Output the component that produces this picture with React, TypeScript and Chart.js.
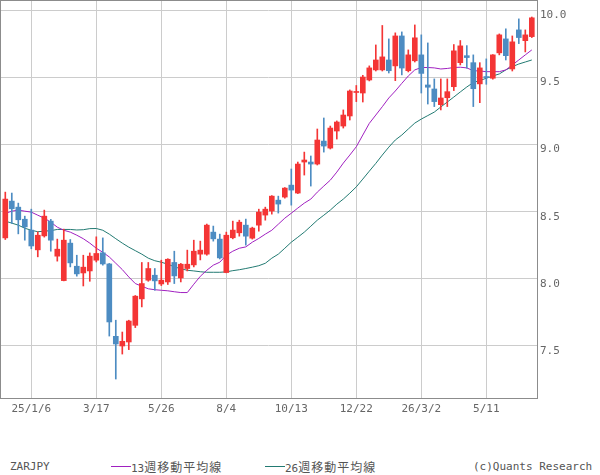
import React, { useEffect, useRef } from 'react';
import { Chart, registerables } from 'chart.js';

Chart.register(...registerables);

// Weekly ZARJPY candles (index 0 = week of 2024/12/9)
const opens = [
  8.305, 8.579, 8.534, 8.444, 8.363, 8.216, 8.320, 8.430, 8.169, 7.987,
  8.266, 8.094, 8.044, 8.059, 8.139, 8.194, 8.111, 7.572, 7.500, 7.530,
  7.654, 7.851, 7.990, 8.027, 7.962, 7.977, 8.122, 8.007, 8.077, 8.104,
  8.184, 8.184, 8.348, 8.296, 8.047, 8.306, 8.343, 8.400, 8.303, 8.400,
  8.475, 8.505, 8.586, 8.609, 8.698, 8.639, 8.870, 8.870, 8.855, 9.026,
  8.974, 9.101, 9.138, 9.213, 9.388, 9.384, 9.481, 9.556, 9.556, 9.630,
  9.586, 9.809, 9.550, 9.624, 9.668, 9.444, 9.414, 9.297, 9.349, 9.431,
  9.610, 9.662, 9.610, 9.452, 9.506, 9.494, 9.683, 9.787, 9.563, 9.854,
  9.774, 9.804,
];
const highs = [
  8.646, 8.639, 8.564, 8.467, 8.519, 8.350, 8.512, 8.443, 8.296, 8.370,
  8.293, 8.176, 8.176, 8.193, 8.313, 8.305, 8.115, 7.692, 7.604, 7.692,
  7.876, 8.122, 8.122, 8.077, 8.139, 8.150, 8.206, 8.115, 8.214, 8.288,
  8.281, 8.408, 8.393, 8.333, 8.348, 8.430, 8.437, 8.445, 8.385, 8.519,
  8.534, 8.620, 8.616, 8.680, 8.818, 8.870, 8.944, 8.915, 9.116, 9.198,
  9.138, 9.176, 9.258, 9.407, 9.440, 9.516, 9.586, 9.742, 9.887, 9.787,
  9.832, 9.839, 9.705, 9.891, 9.817, 9.757, 9.489, 9.489, 9.489, 9.745,
  9.775, 9.737, 9.668, 9.610, 9.638, 9.670, 9.824, 9.862, 9.809, 9.936,
  9.854, 9.950,
];
const lows = [
  8.293, 8.413, 8.335, 8.288, 8.224, 8.164, 8.311, 8.206, 8.132, 7.985,
  8.089, 8.020, 7.947, 7.982, 8.126, 8.102, 7.574, 7.254, 7.440, 7.473,
  7.637, 7.791, 7.982, 7.915, 7.950, 7.958, 7.965, 7.977, 8.059, 8.089,
  8.141, 8.176, 8.281, 8.148, 8.045, 8.298, 8.318, 8.251, 8.296, 8.355,
  8.437, 8.482, 8.490, 8.601, 8.549, 8.635, 8.773, 8.691, 8.848, 8.944,
  8.967, 9.041, 9.123, 9.183, 9.320, 9.317, 9.474, 9.548, 9.548, 9.533,
  9.476, 9.519, 9.541, 9.615, 9.384, 9.302, 9.283, 9.258, 9.283, 9.402,
  9.593, 9.569, 9.283, 9.312, 9.449, 9.487, 9.668, 9.630, 9.548, 9.752,
  9.690, 9.797,
];
const closes = [
  8.594, 8.522, 8.440, 8.387, 8.245, 8.325, 8.467, 8.288, 8.221, 8.288,
  8.119, 8.037, 8.087, 8.169, 8.189, 8.111, 7.679, 7.515, 7.535, 7.686,
  7.871, 7.965, 8.077, 7.985, 7.990, 8.146, 8.022, 8.109, 8.109, 8.206,
  8.214, 8.400, 8.298, 8.156, 8.325, 8.363, 8.422, 8.318, 8.378, 8.497,
  8.519, 8.616, 8.557, 8.676, 8.661, 8.855, 8.885, 8.855, 9.034, 8.989,
  9.123, 9.168, 9.220, 9.399, 9.395, 9.503, 9.571, 9.630, 9.653, 9.550,
  9.809, 9.570, 9.668, 9.795, 9.530, 9.427, 9.320, 9.347, 9.394, 9.698,
  9.735, 9.648, 9.416, 9.571, 9.499, 9.668, 9.817, 9.662, 9.765, 9.797,
  9.817, 9.944,
];
const ma13 = [
  8.487, 8.504, 8.512, 8.504, 8.497, 8.474, 8.452, 8.422, 8.385, 8.362,
  8.348, 8.325, 8.299, 8.266, 8.228, 8.198, 8.163, 8.116, 8.069, 8.014,
  7.965, 7.945, 7.926, 7.919, 7.915, 7.911, 7.904, 7.898, 7.898, 7.960,
  8.019, 8.064, 8.102, 8.124, 8.176, 8.206, 8.228, 8.238, 8.273, 8.301,
  8.333, 8.362, 8.407, 8.452, 8.489, 8.527, 8.564, 8.594, 8.646, 8.691,
  8.735, 8.795, 8.862, 8.922, 8.984, 9.071, 9.158, 9.220, 9.282, 9.347,
  9.399, 9.456, 9.511, 9.556, 9.574, 9.574, 9.571, 9.563, 9.567, 9.574,
  9.576, 9.571, 9.550, 9.548, 9.543, 9.543, 9.543, 9.556, 9.593, 9.630,
  9.668, 9.705,
];
const ma26 = [
  8.430, 8.415, 8.400, 8.377, 8.362, 8.351, 8.355, 8.359, 8.368, 8.368,
  8.368, 8.364, 8.366, 8.374, 8.375, 8.362, 8.333, 8.299, 8.266, 8.236,
  8.210, 8.184, 8.154, 8.135, 8.124, 8.109, 8.090, 8.075, 8.064, 8.059,
  8.053, 8.049, 8.049, 8.049, 8.052, 8.061, 8.068, 8.077, 8.087, 8.098,
  8.116, 8.154, 8.184, 8.228, 8.273, 8.310, 8.348, 8.392, 8.437, 8.474,
  8.512, 8.556, 8.594, 8.638, 8.685, 8.743, 8.802, 8.860, 8.922, 8.981,
  9.034, 9.071, 9.116, 9.160, 9.190, 9.216, 9.242, 9.280, 9.317, 9.354,
  9.392, 9.429, 9.462, 9.477, 9.494, 9.511, 9.526, 9.556, 9.580, 9.600,
  9.615, 9.630,
];
const tickIndex = [4, 14, 24, 34, 44, 54, 64, 74];
const tickLabels = ['25/1/6', '3/17', '5/26', '8/4', '10/13', '12/22', '26/3/2', '5/11'];
const yTicks = [7.5, 8.0, 8.5, 9.0, 9.5, 10.0];

const RED = '#f43535';
const BLUE = '#4d8cc2';
const PURPLE = '#a020c0';
const TEAL = '#227a72';
const MONO = "'DejaVu Sans Mono', monospace";

const borderPlugin = {
  id: 'frameBorder',
  beforeDatasetsDraw(chart: any) {
    const { ctx, chartArea } = chart;
    ctx.save();
    ctx.strokeStyle = '#8c8c8c';
    ctx.lineWidth = 1;
    ctx.strokeRect(
      chartArea.left + 0.5,
      chartArea.top + 0.5,
      chartArea.right - chartArea.left,
      chartArea.bottom - chartArea.top
    );
    ctx.restore();
  },
};

const zeroPad = (s: any) => {
  s.paddingTop = 0;
  s.paddingBottom = 0;
  s.paddingLeft = 0;
  s.paddingRight = 0;
};

export default function App() {
  const ref = useRef<HTMLCanvasElement>(null);

  useEffect(() => {
    const colors = closes.map((c, i) => (c >= opens[i] ? RED : BLUE));
    const bodies = opens.map((o, i) => ({ x: i, y: [o, closes[i]] }));
    const wicks = lows.map((l, i) => ({ x: i, y: [l, highs[i]] }));
    const chart = new Chart(ref.current as HTMLCanvasElement, {
      type: 'bar',
      data: {
        datasets: [
          {
            type: 'bar',
            data: wicks as any,
            backgroundColor: colors,
            barThickness: 1,
            grouped: false,
            borderWidth: 0,
            order: 2,
          } as any,
          {
            type: 'bar',
            data: bodies as any,
            backgroundColor: colors,
            barThickness: 5,
            minBarLength: 1,
            grouped: false,
            borderWidth: 0,
            order: 1,
          } as any,
          {
            type: 'line',
            data: ma13.map((v, i) => ({ x: i, y: v })),
            borderColor: PURPLE,
            borderWidth: 1,
            pointRadius: 0,
            tension: 0,
            order: 3,
          } as any,
          {
            type: 'line',
            data: ma26.map((v, i) => ({ x: i, y: v })),
            borderColor: TEAL,
            borderWidth: 1,
            pointRadius: 0,
            tension: 0,
            order: 4,
          } as any,
        ],
      },
      options: {
        animation: false,
        responsive: false,
        layout: { padding: 0 },
        plugins: { legend: { display: false }, tooltip: { enabled: false } },
        scales: {
          x: {
            type: 'linear',
            min: -0.815,
            max: 81.8,
            offset: false,
            grid: { color: '#cccccc', drawTicks: false, lineWidth: 1, offset: false },
            border: { display: false },
            afterBuildTicks: (s: any) => {
              s.ticks = tickIndex.map((v) => ({ value: v }));
            },
            afterFit: (s: any) => {
              s.height = 32;
              zeroPad(s);
            },
            ticks: {
              autoSkip: false,
              maxRotation: 0,
              minRotation: 0,
              padding: 5,
              color: '#666666',
              font: { family: MONO, size: 11 },
              callback: (v: any) => {
                const k = tickIndex.indexOf(Number(v));
                return k >= 0 ? tickLabels[k] : '';
              },
            },
          },
          y: {
            position: 'right',
            min: 7.1127,
            max: 10.0767,
            grid: { color: '#cccccc', drawTicks: false, lineWidth: 1 },
            border: { display: false },
            afterBuildTicks: (s: any) => {
              s.ticks = yTicks.map((v) => ({ value: v }));
            },
            afterFit: (s: any) => {
              s.width = 63;
              zeroPad(s);
            },
            ticks: {
              padding: 3,
              labelOffset: 5,
              color: '#666666',
              font: { family: MONO, size: 11 },
              callback: (v: any) => Number(v).toFixed(1),
            },
          },
        },
      } as any,
      plugins: [borderPlugin],
    });
    return () => chart.destroy();
  }, []);

  const legendText: React.CSSProperties = {
    position: 'absolute',
    top: 460,
    fontFamily: MONO,
    fontSize: 11,
    lineHeight: '13px',
    color: '#555555',
    whiteSpace: 'nowrap',
  };
  const cjk: React.CSSProperties = {
    fontFamily: "'Noto Sans CJK JP', sans-serif",
    fontSize: 12,
    letterSpacing: 1,
  };

  return (
    <div
      style={{
        position: 'absolute',
        left: 0,
        top: 0,
        width: 600,
        height: 475,
        background: '#ffffff',
        overflow: 'hidden',
      }}
    >
      <canvas ref={ref} width={600} height={430} style={{ display: 'block' }} />
      <div style={{ ...legendText, left: 10 }}>ZARJPY</div>
      <div style={{ position: 'absolute', left: 111, top: 466, width: 20, height: 1, background: PURPLE }} />
      <div style={{ ...legendText, left: 131 }}>
        13<span style={cjk}>週移動平均線</span>
      </div>
      <div style={{ position: 'absolute', left: 265, top: 466, width: 20, height: 1, background: TEAL }} />
      <div style={{ ...legendText, left: 285 }}>
        26<span style={cjk}>週移動平均線</span>
      </div>
      <div style={{ ...legendText, left: 473 }}>(c)Quants Research</div>
    </div>
  );
}
